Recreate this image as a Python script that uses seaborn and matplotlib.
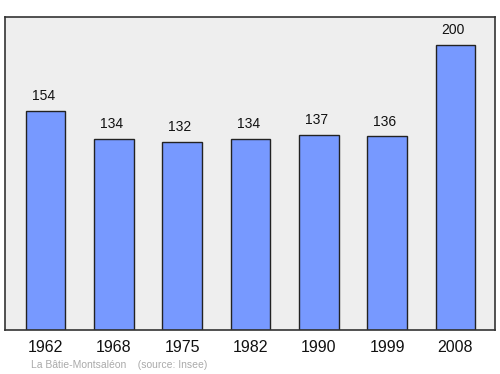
import matplotlib
matplotlib.use("Agg")
import matplotlib.pyplot as plt
import seaborn as sns
import pandas as pd

years = ["1962", "1968", "1975", "1982", "1990", "1999", "2008"]
population = [154, 134, 132, 134, 137, 136, 200]
footer = "La Bâtie-Montsaléon    (source: Insee)"

sns.set_style("white")
plt.rcParams['font.family'] = ['Liberation Sans', 'DejaVu Sans']

df = pd.DataFrame({"year": years, "pop": population})

fig = plt.figure(figsize=(5, 3.74), dpi=100)
ax = fig.add_axes([0.01, 0.1176, 0.98, 0.8369])
ax.set_facecolor("#EEEEEE")

sns.barplot(data=df, x="year", y="pop", color="#7799FF", saturation=1,
            width=0.58, edgecolor="#222222", linewidth=1, ax=ax)

for i, v in enumerate(population):
    ax.annotate(str(v), (i, v), xytext=(-1.5, 10.5), textcoords="offset points",
                ha="center", va="center", fontsize=10, color="#111111")

ax.set_xlim(-0.593, 6.58)
ax.set_ylim(0, 219.6)
ax.set_xlabel("")
ax.set_ylabel("")
ax.set_yticks([])
ax.tick_params(axis="x", length=0, pad=7, labelsize=11.5, colors="#111111")
for s in ax.spines.values():
    s.set_color("#333333")
    s.set_linewidth(1.2)

fig.text(0.062, 0.023, footer, fontsize=7.5, color="#AAAAAA", ha="left", va="center")

fig.savefig("out.png", dpi=100)
